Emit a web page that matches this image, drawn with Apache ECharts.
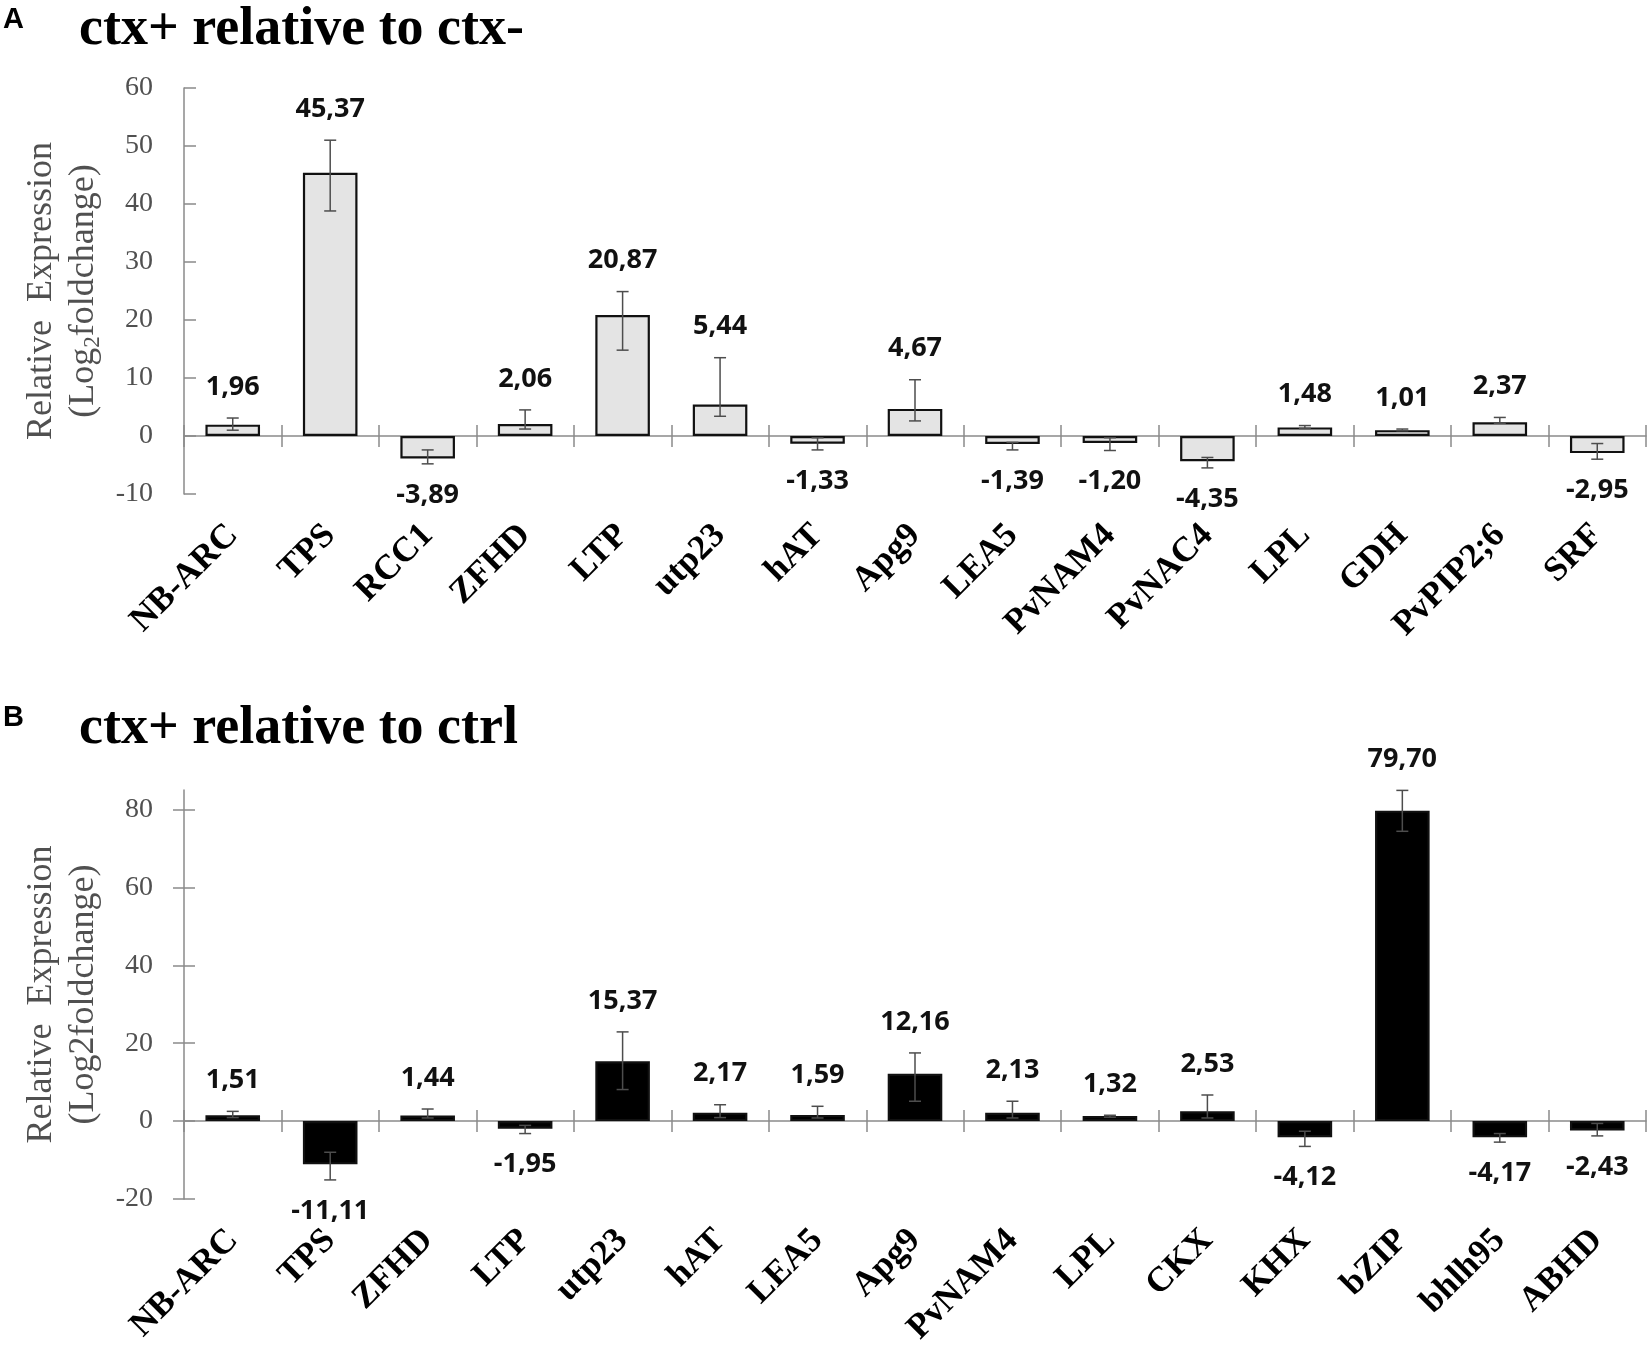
<!DOCTYPE html>
<html>
<head>
<meta charset="utf-8">
<script src="https://cdn.jsdelivr.net/npm/echarts@6/dist/echarts.min.js"></script>
<style>
  html, body { margin: 0; padding: 0; background: #fff; }
  #chart { width: 1650px; height: 1355px; }
</style>
</head>
<body>
<div id="chart"></div>
<script>
// panel A : ctx+ relative to ctx-
const genesA = ['NB-ARC', 'TPS', 'RCC1', 'ZFHD', 'LTP', 'utp23', 'hAT', 'Apg9', 'LEA5', 'PvNAM4', 'PvNAC4', 'LPL', 'GDH', 'PvPIP2;6', 'SRF'];
const valuesA = [1.96, 45.37, -3.89, 2.06, 20.87, 5.44, -1.33, 4.67, -1.39, -1.20, -4.35, 1.48, 1.01, 2.37, -2.95];
const errLowA = [1.0, 38.8, -4.8, 1.2, 14.8, 3.4, -2.4, 2.6, -2.4, -2.5, -5.5, 1.3, 0.9, 2.2, -4.0];
const errHighA = [3.1, 51.0, -2.4, 4.5, 24.9, 13.5, -0.3, 9.7, -1.1, -0.3, -3.7, 1.8, 1.2, 3.2, -1.3];
const ticksA = [-10, 0, 10, 20, 30, 40, 50, 60];

// panel B : ctx+ relative to ctrl
const genesB = ['NB-ARC', 'TPS', 'ZFHD', 'LTP', 'utp23', 'hAT', 'LEA5', 'Apg9', 'PvNAM4', 'LPL', 'CKX', 'KHX', 'bZIP', 'bhlh95', 'ABHD'];
const valuesB = [1.51, -11.11, 1.44, -1.95, 15.37, 2.17, 1.59, 12.16, 2.13, 1.32, 2.53, -4.12, 79.70, -4.17, -2.43];
const errLowB = [0.9, -15.1, 0.8, -3.2, 8.1, 0.9, 0.8, 5.1, 0.8, 1.0, 0.8, -6.5, 74.4, -5.4, -3.8];
const errHighB = [2.5, -8.0, 3.1, -1.1, 22.9, 4.2, 3.8, 17.5, 5.1, 1.5, 6.7, -2.6, 84.9, -3.2, -0.6];
const ticksB = [-20, 0, 20, 40, 60, 80];
const axisTopB = 85;

const axisGray = '#8a8a8a';
const textGray = '#505050';

function fmt(v) {
  return v.toFixed(2).replace('.', ',');
}

let chart = echarts.init(document.getElementById('chart'));

let option = {
  animation: false,
  title: [
    { text: 'A', left: 3, top: 5, padding: 0,
      textStyle: { fontFamily: 'Liberation Sans', fontWeight: 'bold', fontSize: 29, color: '#000' } },
    { text: 'ctx+ relative to ctx-', left: 79, top: 3, padding: 0,
      textStyle: { fontFamily: 'Liberation Serif', fontWeight: 'bold', fontSize: 54, color: '#000' } },
    { text: 'B', left: 3, top: 703, padding: 0,
      textStyle: { fontFamily: 'Liberation Sans', fontWeight: 'bold', fontSize: 29, color: '#000' } },
    { text: 'ctx+ relative to ctrl', left: 79, top: 702, padding: 0,
      textStyle: { fontFamily: 'Liberation Serif', fontWeight: 'bold', fontSize: 54, color: '#000' } }
  ],
  grid: [],
  xAxis: [],
  yAxis: [],
  series: []
};

function addPanel(p, genes, values, lo, hi, ticks, yMax, top, height, barColor, yName, crossTicks) {
  option.grid.push({ left: 184, right: 4, top: top, height: height });

  // zero line, ticks pointing down
  option.xAxis.push({
    type: 'category', gridIndex: p, data: genes, position: 'bottom',
    axisLine: { onZero: true, lineStyle: { color: axisGray, width: 1.5 } },
    axisTick: { show: true, length: 11, lineStyle: { color: axisGray, width: 1.5 } },
    axisLabel: { show: false }
  });
  // same line, ticks pointing up
  option.xAxis.push({
    type: 'category', gridIndex: p, data: genes, position: 'bottom',
    axisLine: { show: false, onZero: true },
    axisTick: { show: true, inside: true, length: 11, lineStyle: { color: axisGray, width: 1.5 } },
    axisLabel: { show: false }
  });
  // gene names under the plot
  option.xAxis.push({
    type: 'category', gridIndex: p, data: genes, position: 'bottom',
    axisLine: { show: false, onZero: false },
    axisTick: { show: false },
    axisLabel: {
      interval: 0, rotate: 45, margin: 36,
      fontFamily: 'Liberation Serif', fontWeight: 'bold', fontSize: 35, color: '#000'
    }
  });

  let interval = ticks[1] - ticks[0];
  option.yAxis.push({
    type: 'value', gridIndex: p, position: 'left', min: ticks[0], max: yMax, interval: interval,
    name: yName, nameLocation: 'middle', nameRotate: 90, nameGap: 73,
    nameTextStyle: {
      fontFamily: 'Liberation Serif', fontSize: 36, color: textGray, lineHeight: 42,
      rich: {
        sub: { fontFamily: 'Liberation Serif', fontSize: 23, color: textGray, lineHeight: 22, verticalAlign: 'bottom' }
      }
    },
    axisLine: { show: true, lineStyle: { color: axisGray, width: 1.5 } },
    axisTick: { show: true, inside: !crossTicks, length: crossTicks ? 11 : 12, customValues: ticks,
      lineStyle: { color: axisGray, width: 1.5 } },
    axisLabel: { margin: 31, customValues: ticks, fontFamily: 'Liberation Serif', fontSize: 28, color: textGray },
    splitLine: { show: false }
  });
  option.yAxis.push({
    type: 'value', gridIndex: p, position: 'left', min: ticks[0], max: yMax, interval: interval,
    show: crossTicks,
    axisLine: { show: false },
    axisTick: { show: true, inside: true, length: 11, customValues: ticks,
      lineStyle: { color: axisGray, width: 1.5 } },
    axisLabel: { show: false },
    splitLine: { show: false }
  });

  option.series.push({
    type: 'bar', xAxisIndex: p * 3, yAxisIndex: p * 2,
    data: values, barWidth: '56%',
    itemStyle: { color: barColor, borderColor: '#111', borderWidth: 2.2 },
    silent: true
  });

  option.series.push({
    type: 'custom', xAxisIndex: p * 3, yAxisIndex: p * 2,
    data: genes.map((g, i) => [i, lo[i], hi[i], values[i]]),
    encode: { x: 0, y: [1, 2] },
    clip: false,
    z: 5,
    silent: true,
    renderItem: function (params, api) {
      let i = api.value(0);
      let pLo = api.coord([i, api.value(1)]);
      let pHi = api.coord([i, api.value(2)]);
      let v = api.value(3);
      let x = pLo[0];
      let cap = 6;
      let line = { stroke: '#4d4d4d', lineWidth: 1.5 };
      let labelY = v >= 0 ? pHi[1] - 31 : pLo[1] + 31;
      return {
        type: 'group',
        children: [
          { type: 'line', shape: { x1: x, y1: pLo[1], x2: x, y2: pHi[1] }, style: line },
          { type: 'line', shape: { x1: x - cap, y1: pLo[1], x2: x + cap, y2: pLo[1] }, style: line },
          { type: 'line', shape: { x1: x - cap, y1: pHi[1], x2: x + cap, y2: pHi[1] }, style: line },
          { type: 'text', style: {
              x: x, y: labelY, text: fmt(v), align: 'center', verticalAlign: 'middle',
              fontFamily: 'Open Sans', fontWeight: 'bold', fontSize: 27, fill: '#111'
          } }
        ]
      };
    }
  });
}

addPanel(0, genesA, valuesA, errLowA, errHighA, ticksA, ticksA[ticksA.length - 1], 88, 406, '#e4e4e4',
  'Relative  Expression\n(Log{sub|2}foldchange)', false);
addPanel(1, genesB, valuesB, errLowB, errHighB, ticksB, axisTopB, 790, 409, '#000',
  'Relative  Expression\n(Log2foldchange)', true);

option && chart.setOption(option);
</script>
</body>
</html>
